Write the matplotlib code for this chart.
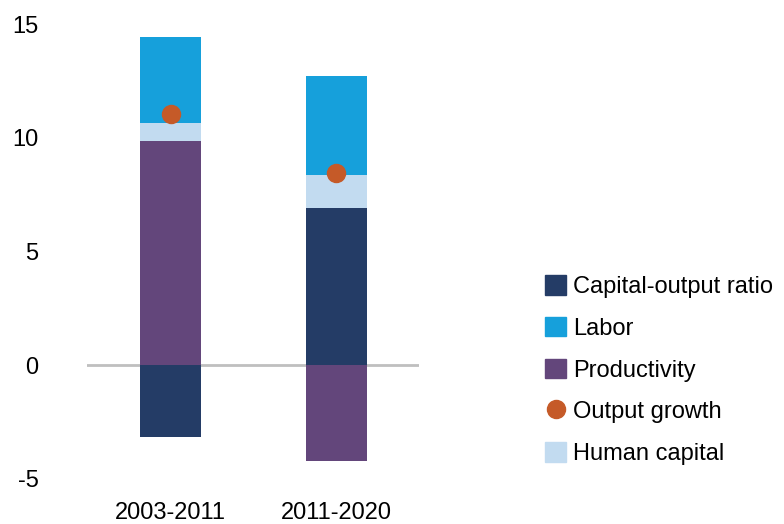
import numpy as np
import matplotlib
matplotlib.use("Agg")
import matplotlib.pyplot as plt
from matplotlib.patches import Patch
from matplotlib.lines import Line2D

plt.rcParams['font.family'] = ['Liberation Sans', 'DejaVu Sans']
plt.rcParams['axes.unicode_minus'] = False

# data
periods = ["2003-2011", "2011-2020"]
capital_output = [-3.15, 6.9]
labor = [3.8, 4.35]
productivity = [9.85, -4.2]
human_capital = [0.8, 1.45]
output_growth = [11.05, 8.45]

c_cap = "#243C66"
c_lab = "#16A0DB"
c_prod = "#63467B"
c_out = "#C55A28"
c_hc = "#C2DBF0"

fs = 17

fig = plt.figure(figsize=(7.84, 5.24), dpi=100)
ax = fig.add_axes([87/784, 0.0425, 332/784, 0.955])

x = np.arange(len(periods))
w = 0.37

# stack positives up from zero, negatives down from zero
pos_base = np.zeros(len(periods))
neg_base = np.zeros(len(periods))
for vals, col in [(capital_output, c_cap), (productivity, c_prod),
                  (human_capital, c_hc), (labor, c_lab)]:
    for i in range(len(periods)):
        v = vals[i]
        if v >= 0:
            ax.bar(x[i], v, w, bottom=pos_base[i], color=col, zorder=2)
            pos_base[i] += v
        else:
            ax.bar(x[i], v, w, bottom=neg_base[i], color=col, zorder=2)
            neg_base[i] += v

ax.plot(x, output_growth, 'o', color=c_out, markersize=13, zorder=3)
ax.axhline(0, color="#bfbfbf", lw=2, zorder=1)

ax.set_xlim(-0.505, 1.50)
ax.set_ylim(-6, 16)
ax.set_yticks([-5, 0, 5, 10, 15])
ax.set_xticks(x)
ax.set_xticklabels(periods)
ax.tick_params(axis='y', length=0, pad=35, labelsize=fs)
ax.tick_params(axis='x', length=0, pad=0.5, labelsize=fs)
for s in ax.spines.values():
    s.set_visible(False)

handles = [Patch(color=c_cap), Patch(color=c_lab), Patch(color=c_prod),
           Line2D([], [], marker='o', ls='', color=c_out, markersize=13),
           Patch(color=c_hc)]
labels = ["Capital-output ratio", "Labor", "Productivity", "Output growth", "Human capital"]
fig.legend(handles, labels, loc='upper left', bbox_to_anchor=(545/784, 1 - 275/524),
           frameon=False, fontsize=fs, handlelength=0.9, handleheight=0.9,
           handletextpad=0.3, labelspacing=0.8, borderaxespad=0, borderpad=0)

fig.savefig("out.png", dpi=100)
